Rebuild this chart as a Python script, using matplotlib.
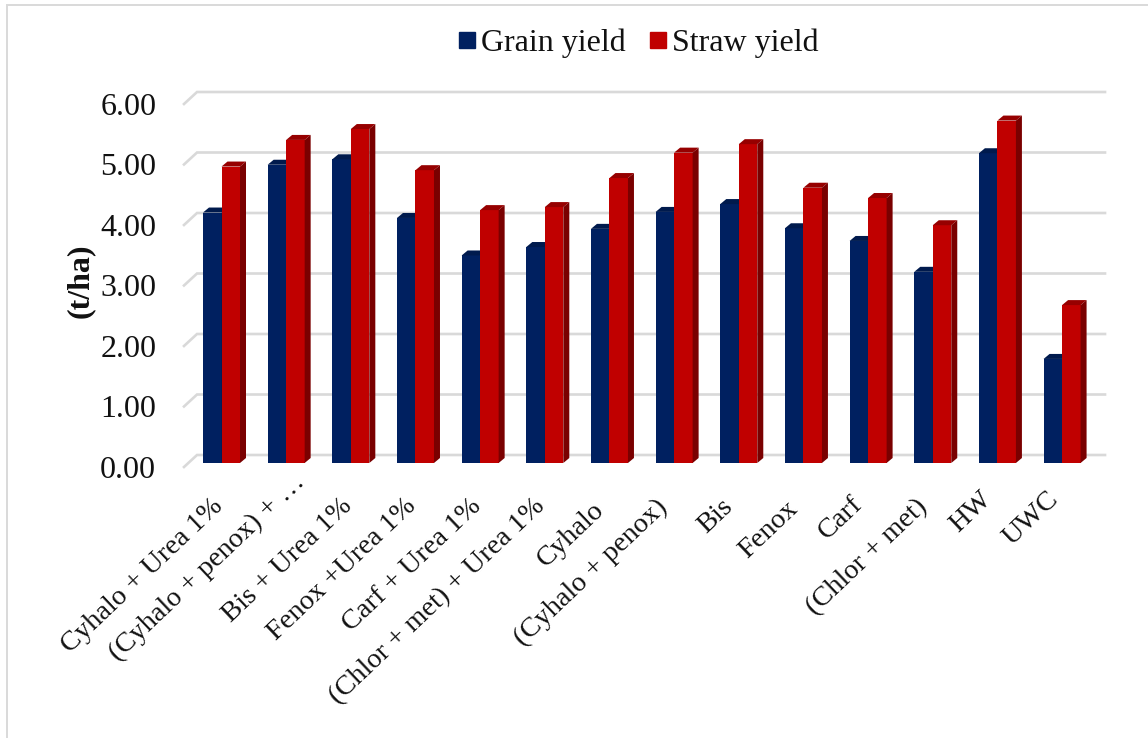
import numpy as np
import matplotlib.pyplot as plt
from matplotlib.patches import Polygon
from matplotlib.lines import Line2D
from matplotlib.transforms import ScaledTranslation

plt.rcParams['font.family'] = ['Liberation Serif', 'DejaVu Sans']

categories = ['Cyhalo + Urea 1%', '(Cyhalo + penox) + \u2026', 'Bis + Urea 1%', 'Fenox +Urea 1%',
              'Carf + Urea 1%', '(Chlor + met) + Urea 1%', 'Cyhalo', '(Cyhalo + penox)',
              'Bis', 'Fenox', 'Carf', '(Chlor + met)', 'HW', 'UWC']
grain = [4.14, 4.93, 5.02, 4.05, 3.43, 3.57, 3.87, 4.15, 4.28, 3.88, 3.67, 3.16, 5.12, 1.72]
straw = [4.90, 5.34, 5.52, 4.84, 4.18, 4.23, 4.71, 5.13, 5.27, 4.55, 4.38, 3.93, 5.66, 2.61]
yticks = [0, 1, 2, 3, 4, 5, 6]

# nudges of the rotated labels, in pixels (right, up)
label_dx = [-3, 15, -3, -4, -3, -4, -9, -11, -10, -10, -10, -10, -10, -8]
label_dy = [0, 24, 0, 0, 0, 0, -4, -1, -1, -3, 2, -1, 7, 7]

W, H = 1148, 738
px_x = 64.66   # pixels per category
px_y = 60.5    # pixels per t/ha

fig = plt.figure(figsize=(W / 100, H / 100), dpi=100)
# frame of the chart: only the top and left edges show
fig.add_artist(Line2D([7 / W, 7 / W, 1], [0, 1 - 5 / H, 1 - 5 / H], transform=fig.transFigure,
                      color='#D9D9D9', lw=1.4, solid_joinstyle='miter'))

# axes box in pixels: left 184, right 1105, y=467 (front of zero) up to y=92 (back of six)
ax = fig.add_axes([184 / W, 1 - 467 / H, (1105 - 184) / W, (467 - 92) / H])
ax.set_xlim((184 - 221.5) / px_x, (1105 - 221.5) / px_x)
ax.set_ylim(-4 / px_y, 6 + 8 / px_y)
ax.patch.set_alpha(0)
for s in ax.spines.values():
    s.set_visible(False)

# back wall gridlines with the slanted floor/wall stub on the left
back_dy = 8 / px_y
front_dy = -4 / px_y
stub = 13 / px_x
x_l = ax.get_xlim()[0]
x_r = ax.get_xlim()[1]
for v in yticks:
    ax.plot([x_l, x_l + stub, x_r], [v + front_dy, v + back_dy, v + back_dy], color='#D9D9D9',
            lw=1.9, zorder=1, clip_on=False, solid_joinstyle='miter')

bw = 18.5 / px_x
dx = 6 / px_x
dy = 5 / px_y
x = np.arange(len(categories))


def draw_bars(xs, vals, face, top, side, z):
    ax.bar(xs, vals, width=bw, color=face, zorder=z)
    for xi, v in zip(xs, vals):
        l, r = xi - bw / 2, xi + bw / 2
        ax.add_patch(Polygon([(l, v), (l + dx, v + dy), (r + dx, v + dy), (r, v)], fc=top, ec='none', zorder=z))
        ax.add_patch(Polygon([(r, 0), (r + dx, dy), (r + dx, v + dy), (r, v)], fc=side, ec='none', zorder=z))


draw_bars(x - bw / 2, grain, '#002060', '#001A4D', '#001A4D', 3)
draw_bars(x + bw / 2, straw, '#C00000', '#960000', '#7A0000', 4)

ax.set_yticks([v + front_dy for v in yticks])
ax.set_yticklabels(['%.2f' % v for v in yticks], fontsize=23, color='#111111')
ax.tick_params(axis='y', length=0, pad=20)
ax.set_xticks(x - 8 / px_x)
ax.set_xticklabels(categories, rotation=43.5, ha='right', va='top', rotation_mode='anchor',
                   fontsize=20.4, color='#111111')
ax.tick_params(axis='x', length=0, pad=19)
for lab, ox, oy in zip(ax.get_xticklabels(), label_dx, label_dy):
    lab.set_transform(lab.get_transform() + ScaledTranslation(ox / 100, oy / 100, fig.dpi_scale_trans))

fig.text(80 / W, 1 - 281 / H, '(t/ha)', rotation=90, ha='center', va='center', fontsize=23,
         fontweight='bold', color='#111111')

handles = [Line2D([], [], marker='s', ls='none', ms=11.5, color='#002060'),
           Line2D([], [], marker='s', ls='none', ms=11.5, color='#C00000')]
fig.legend(handles, ['Grain yield', 'Straw yield'], ncol=2, loc='center', bbox_to_anchor=(639 / W, 1 - 43 / H),
           frameon=False, fontsize=23, handlelength=0.5, handletextpad=0.2, columnspacing=0.75,
           labelcolor='#111111')

fig.savefig('out.png', dpi=100, facecolor='white')
